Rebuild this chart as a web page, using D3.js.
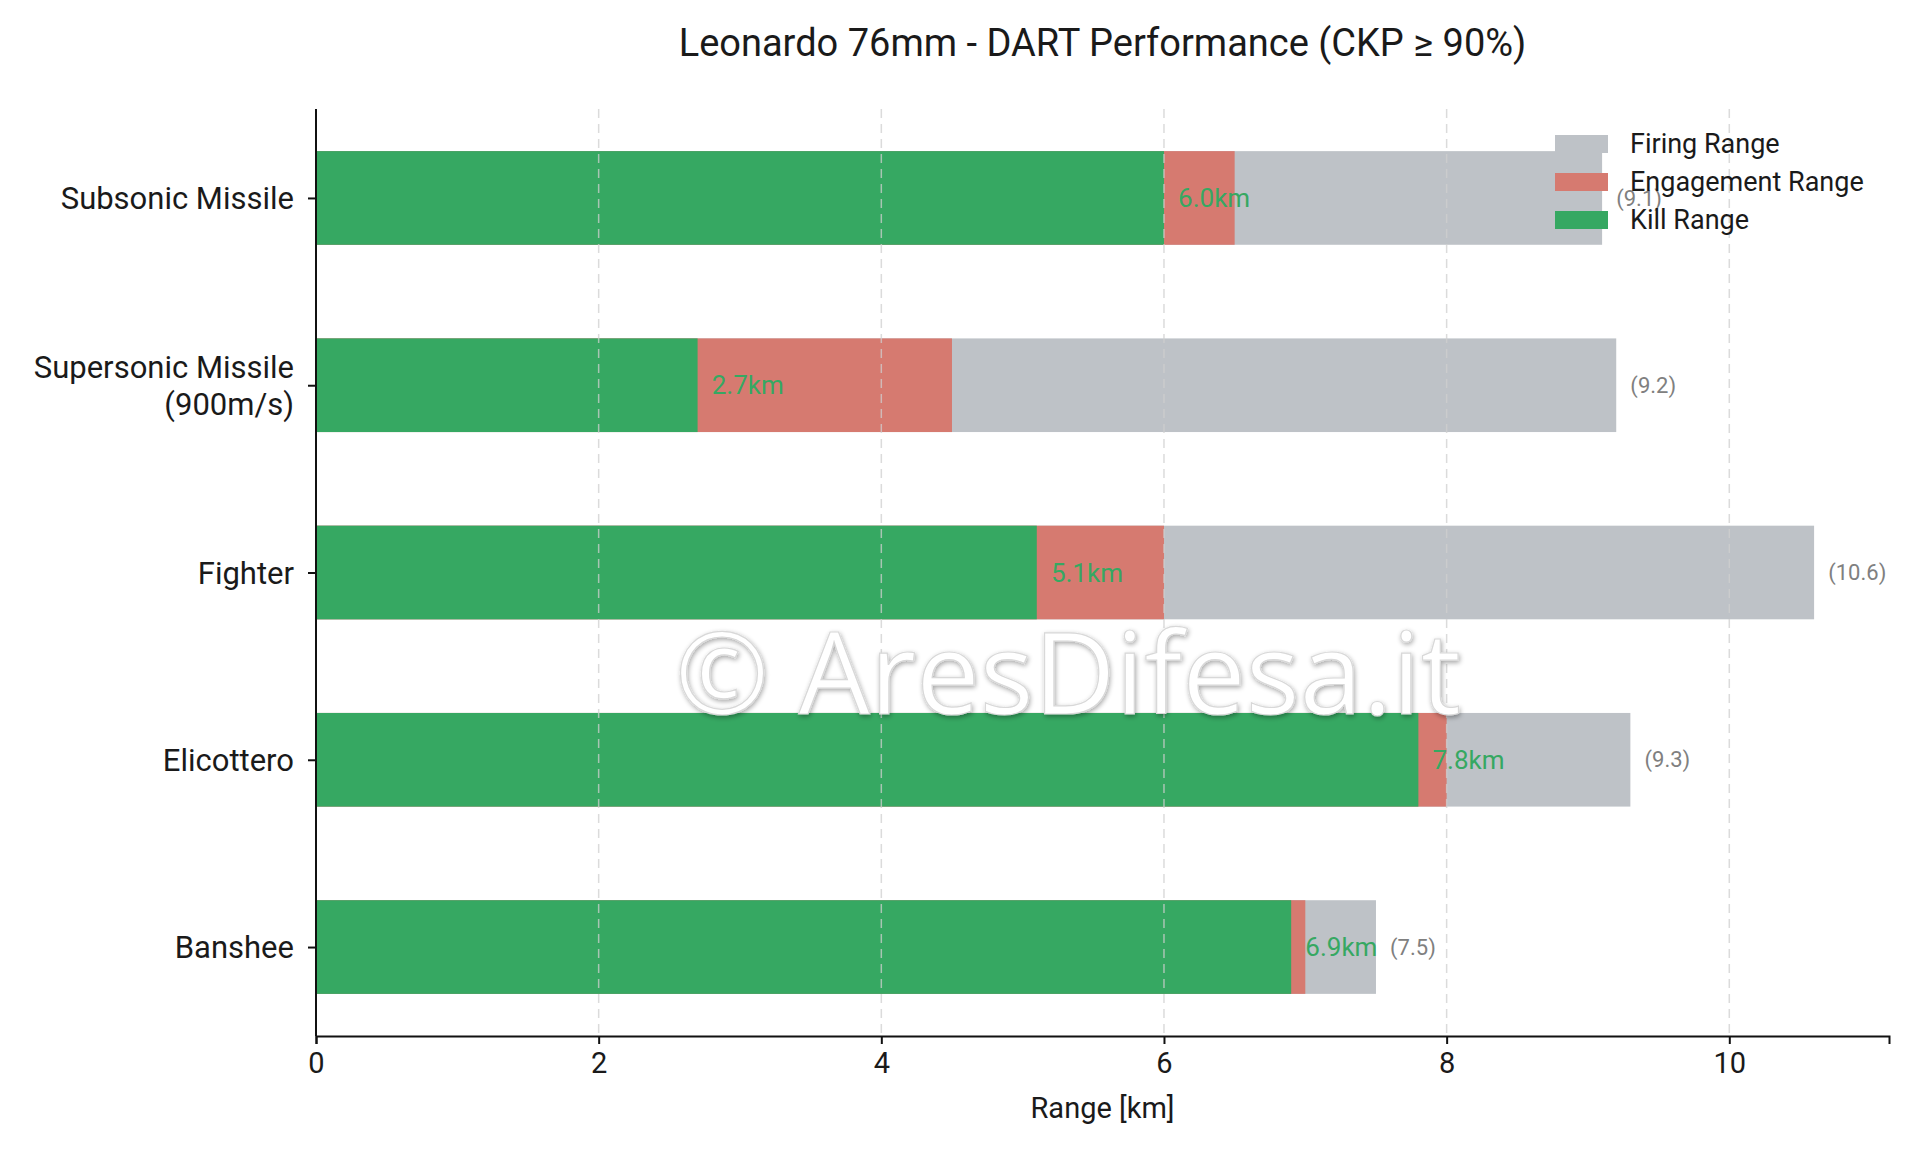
<!DOCTYPE html>
<html><head><meta charset="utf-8">
<script src="https://cdn.jsdelivr.net/npm/d3@7"></script>
<style>
html,body{margin:0;padding:0;background:#fff;}
svg{display:block;font-family:Roboto,"Open Sans",sans-serif;}
</style></head>
<body>
<svg id="chart" width="1920" height="1152"></svg>
<script>
const categories = ["Subsonic Missile", "Supersonic Missile\n(900m/s)", "Fighter", "Elicottero", "Banshee"];
const killRange = [6.0, 2.7, 5.1, 7.8, 6.9];
const engagementRange = [6.5, 4.5, 6.0, 8.0, 7.0];
const firingRange = [9.1, 9.2, 10.6, 9.3, 7.5];
const xTicks = [0, 2, 4, 6, 8, 10];
const seriesNames = ["Firing Range", "Engagement Range", "Kill Range"];
const titleText = "Leonardo 76mm - DART Performance (CKP \u2265 90%)";
const xLabelText = "Range [km]";
const watermarkText = "\u00A9 AresDifesa.it";

const colors = {"Firing Range":"#bec2c7","Engagement Range":"#d67a70","Kill Range":"#36a862"};

const svg = d3.select("#chart");
const defs = svg.append("defs");
const f = defs.append("filter").attr("id","emb").attr("x","-10%").attr("y","-30%").attr("width","120%").attr("height","160%");
f.append("feGaussianBlur").attr("in","SourceAlpha").attr("stdDeviation",2.5).attr("result","b");
f.append("feOffset").attr("in","b").attr("dx",1).attr("dy",2).attr("result","o");
f.append("feComponentTransfer").attr("in","o").attr("result","s")
  .append("feFuncA").attr("type","linear").attr("slope",0.35);
const fm = f.append("feMerge");
fm.append("feMergeNode").attr("in","s");
fm.append("feMergeNode").attr("in","SourceGraphic");

const L = 316, R = 1889, T = 109, B = 1036;
const x = d3.scaleLinear().domain([0, 11.13]).range([L, R]);
const y = d3.scaleLinear().domain([-0.475, 4.475]).range([T, B]);
const barH = y(0.5) - y(0);

// title
svg.append("text").attr("x", (L+R)/2).attr("y", 43).attr("text-anchor","middle")
  .attr("dominant-baseline","central").attr("font-size", 38).attr("fill","#1a1a1a").text(titleText);

const rows = categories.map((c,i)=>({c,i,k:killRange[i],e:engagementRange[i],f:firingRange[i]}));

// bars: firing (back), engagement, kill
const gBars = svg.append("g");
[["f","Firing Range"],["e","Engagement Range"],["k","Kill Range"]].forEach(([key,name])=>{
  gBars.selectAll(null).data(rows).enter().append("rect")
    .attr("x", x(0)).attr("y", d=>y(d.i)-barH/2)
    .attr("width", d=>x(d[key])-x(0)).attr("height", barH)
    .attr("fill", colors[name]);
});

// grid (dashed, above bars)
svg.append("g").selectAll("line").data(xTicks.filter(t=>t>0)).enter().append("line")
  .attr("x1", d=>x(d)).attr("x2", d=>x(d)).attr("y1", T).attr("y2", B)
  .attr("stroke","#cfcfcf").attr("stroke-opacity",0.75).attr("stroke-width",1.5)
  .attr("stroke-dasharray","9,6");

// x axis
const xAxis = d3.axisBottom(x).tickValues(xTicks).tickFormat(d3.format("d")).tickSize(8).tickPadding(8);
const gx = svg.append("g").attr("transform",`translate(0,${B})`).call(xAxis);
gx.select(".domain").attr("stroke","#111").attr("stroke-width",2);
gx.selectAll(".tick line").attr("stroke","#111").attr("stroke-width",2);
gx.selectAll(".tick text").attr("font-size",29).attr("fill","#1a1a1a").attr("font-family","Roboto,sans-serif");

// y axis
const yAxis = d3.axisLeft(y).tickValues(d3.range(categories.length)).tickFormat("").tickSize(8);
const gy = svg.append("g").attr("transform",`translate(${L},0)`).call(yAxis);
gy.select(".domain").attr("stroke","#111").attr("stroke-width",2).attr("d",`M-0,${T}V${B}`);
gy.selectAll(".tick line").attr("stroke","#111").attr("stroke-width",2);
gy.selectAll(".tick").each(function(d){
  const lines = categories[d].split("\n");
  const t = d3.select(this).append("text").attr("x",-22).attr("text-anchor","end")
    .attr("fill","#1a1a1a").attr("font-size",31).attr("font-family","Roboto,sans-serif");
  const lh = 37;
  lines.forEach((ln,j)=>{
    t.append("tspan").attr("x",-22).attr("y", (j-(lines.length-1)/2)*lh).attr("dy","0.35em").text(ln);
  });
});

// x label
svg.append("text").attr("x",(L+R)/2).attr("y",1108).attr("text-anchor","middle")
  .attr("dominant-baseline","central").attr("font-size",29).attr("fill","#1a1a1a").text(xLabelText);

// value labels
svg.append("g").selectAll("text").data(rows).enter().append("text")
  .attr("x", d=>x(d.k+0.1)).attr("y", d=>y(d.i)).attr("dy","0.35em")
  .attr("font-size",26).attr("fill", colors["Kill Range"]).text(d=>d.k.toFixed(1)+"km");
svg.append("g").selectAll("text").data(rows).enter().append("text")
  .attr("x", d=>x(d.f+0.1)).attr("y", d=>y(d.i)).attr("dy","0.35em")
  .attr("font-size",22).attr("fill","#808080").text(d=>"("+d.f.toFixed(1)+")");

// watermark
const wm = svg.append("text").attr("x",1068).attr("y",670).attr("text-anchor","middle")
  .attr("dominant-baseline","central").attr("font-family","'Open Sans',sans-serif").attr("font-weight",400)
  .attr("font-size",118).attr("fill","#ffffff")
  .attr("stroke","#d8d8d8").attr("stroke-width",1.2).attr("filter","url(#emb)").text(watermarkText);
const wl = wm.node().getComputedTextLength();
wm.attr("font-size", 118*786/wl);

// legend
const lg = svg.append("g").attr("transform","translate(1555,135)");
seriesNames.forEach((n,i)=>{
  lg.append("rect").attr("x",0).attr("y",i*38).attr("width",53).attr("height",18).attr("fill",colors[n]);
  lg.append("text").attr("x",75).attr("y",i*38+9).attr("dy","0.35em").attr("font-size",27)
    .attr("fill","#1a1a1a").text(n);
});
</script>
</body></html>
